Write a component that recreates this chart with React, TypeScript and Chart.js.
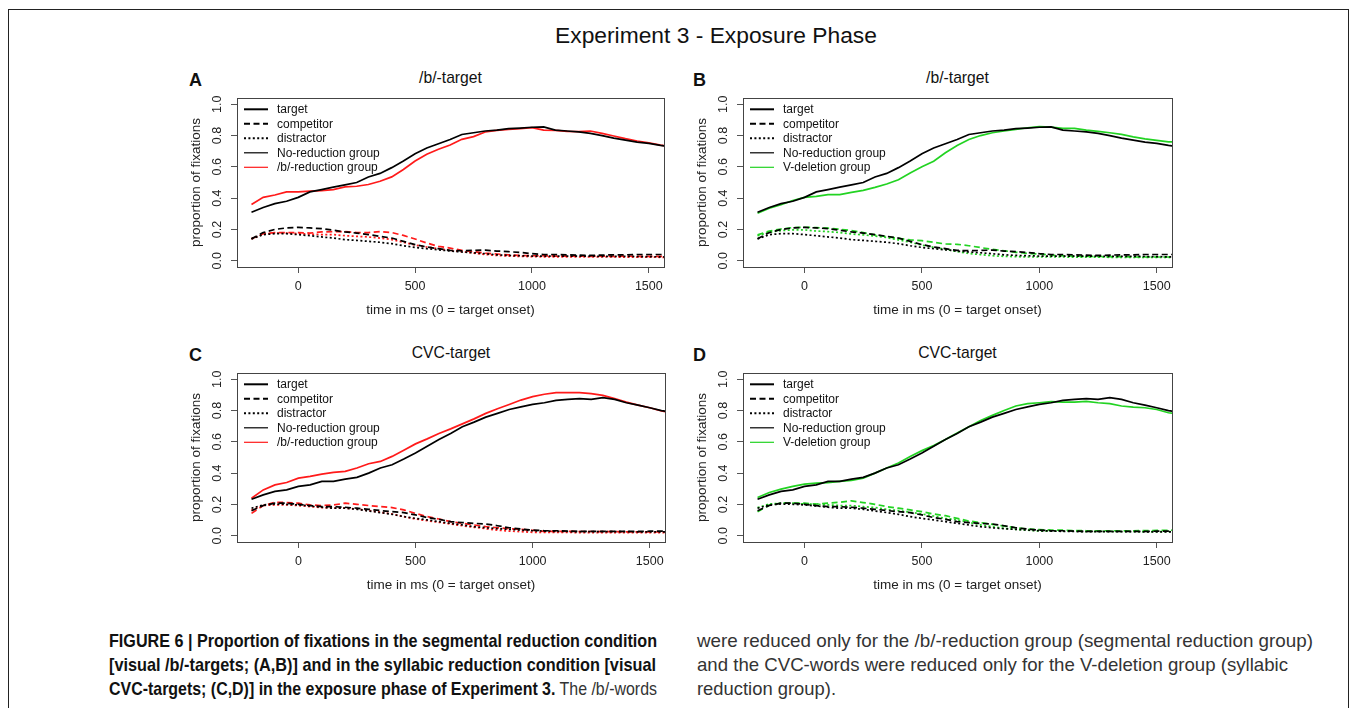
import React, { useEffect, useLayoutEffect, useRef } from "react";
import { Chart, registerables } from "chart.js";

Chart.register(...registerables);

// ---------------- data ----------------
const TIME = [
  -200, -150, -100, -50, 0, 50, 100, 150, 200, 250, 300, 350, 400, 450, 500, 550, 600, 650, 700, 750,
  800, 850, 900, 950, 1000, 1050, 1100, 1150, 1200, 1250, 1300, 1350, 1400, 1450, 1500, 1550, 1600,
];

// /b/-targets, No-reduction group (panels A and B)
const NR_B_TARGET = [0.31, 0.34, 0.365, 0.38, 0.405, 0.44, 0.455, 0.47, 0.485, 0.5, 0.535, 0.558, 0.595, 0.637, 0.684, 0.72, 0.748, 0.775, 0.807, 0.818, 0.829, 0.835, 0.844, 0.848, 0.853, 0.855, 0.835, 0.829, 0.823, 0.814, 0.8, 0.784, 0.771, 0.758, 0.75, 0.737, 0.727];
const NR_B_COMPETITOR = [0.14, 0.18, 0.2, 0.21, 0.213, 0.21, 0.205, 0.195, 0.184, 0.177, 0.167, 0.156, 0.145, 0.124, 0.103, 0.088, 0.077, 0.066, 0.064, 0.066, 0.068, 0.062, 0.058, 0.053, 0.045, 0.04, 0.04, 0.038, 0.036, 0.034, 0.036, 0.038, 0.038, 0.04, 0.04, 0.04, 0.04];
const NR_B_DISTRACTOR = [0.14, 0.167, 0.173, 0.173, 0.167, 0.16, 0.152, 0.145, 0.135, 0.13, 0.124, 0.118, 0.109, 0.096, 0.085, 0.077, 0.07, 0.062, 0.056, 0.051, 0.045, 0.038, 0.034, 0.032, 0.03, 0.03, 0.03, 0.03, 0.029, 0.029, 0.028, 0.028, 0.028, 0.027, 0.026, 0.025, 0.024];

// /b/-targets, /b/-reduction group (panel A)
const BR_B_TARGET = [0.36, 0.405, 0.42, 0.44, 0.44, 0.445, 0.448, 0.455, 0.472, 0.476, 0.487, 0.508, 0.536, 0.583, 0.637, 0.68, 0.712, 0.74, 0.776, 0.793, 0.823, 0.833, 0.84, 0.844, 0.85, 0.835, 0.833, 0.827, 0.825, 0.829, 0.814, 0.797, 0.78, 0.765, 0.754, 0.739, 0.728];
const BR_B_COMPETITOR = [0.14, 0.173, 0.18, 0.18, 0.18, 0.177, 0.184, 0.186, 0.186, 0.18, 0.18, 0.186, 0.18, 0.162, 0.139, 0.113, 0.092, 0.081, 0.066, 0.058, 0.049, 0.043, 0.038, 0.034, 0.032, 0.032, 0.03, 0.03, 0.03, 0.028, 0.03, 0.028, 0.03, 0.028, 0.028, 0.028, 0.028];
const BR_B_DISTRACTOR = [0.14, 0.17, 0.177, 0.177, 0.173, 0.17, 0.167, 0.167, 0.16, 0.156, 0.152, 0.145, 0.135, 0.118, 0.1, 0.088, 0.077, 0.066, 0.058, 0.049, 0.04, 0.034, 0.03, 0.028, 0.026, 0.025, 0.025, 0.025, 0.024, 0.024, 0.024, 0.024, 0.023, 0.023, 0.023, 0.022, 0.022];

// /b/-targets, V-deletion group (panel B)
const VD_B_TARGET = [0.304, 0.336, 0.358, 0.385, 0.405, 0.411, 0.422, 0.422, 0.437, 0.45, 0.469, 0.49, 0.518, 0.561, 0.6, 0.636, 0.69, 0.737, 0.775, 0.8, 0.818, 0.829, 0.839, 0.85, 0.857, 0.854, 0.846, 0.846, 0.835, 0.827, 0.818, 0.807, 0.792, 0.779, 0.769, 0.76, 0.757];
const VD_B_COMPETITOR = [0.165, 0.19, 0.203, 0.212, 0.214, 0.212, 0.208, 0.201, 0.193, 0.18, 0.165, 0.154, 0.143, 0.133, 0.128, 0.118, 0.107, 0.105, 0.096, 0.084, 0.073, 0.064, 0.054, 0.047, 0.043, 0.036, 0.032, 0.03, 0.028, 0.028, 0.026, 0.026, 0.024, 0.024, 0.024, 0.024, 0.024];
const VD_B_DISTRACTOR = [0.16, 0.182, 0.193, 0.197, 0.197, 0.19, 0.186, 0.18, 0.171, 0.165, 0.158, 0.148, 0.133, 0.118, 0.1, 0.086, 0.073, 0.058, 0.047, 0.039, 0.032, 0.028, 0.026, 0.024, 0.024, 0.024, 0.024, 0.023, 0.023, 0.023, 0.022, 0.022, 0.022, 0.021, 0.021, 0.021, 0.021];

// CVC-targets, No-reduction group (panels C and D)
const NR_C_TARGET = [0.233, 0.261, 0.283, 0.293, 0.315, 0.325, 0.347, 0.347, 0.362, 0.373, 0.4, 0.433, 0.454, 0.49, 0.529, 0.572, 0.615, 0.653, 0.696, 0.726, 0.758, 0.782, 0.807, 0.824, 0.839, 0.85, 0.865, 0.871, 0.876, 0.871, 0.882, 0.871, 0.85, 0.835, 0.818, 0.8, 0.79];
const NR_C_COMPETITOR = [0.16, 0.193, 0.208, 0.208, 0.201, 0.193, 0.186, 0.186, 0.182, 0.176, 0.169, 0.161, 0.154, 0.148, 0.133, 0.116, 0.105, 0.09, 0.084, 0.079, 0.075, 0.064, 0.051, 0.043, 0.036, 0.032, 0.032, 0.03, 0.028, 0.028, 0.028, 0.028, 0.028, 0.028, 0.029, 0.03, 0.03];
const NR_C_DISTRACTOR = [0.176, 0.197, 0.203, 0.201, 0.197, 0.19, 0.182, 0.176, 0.176, 0.169, 0.158, 0.148, 0.137, 0.122, 0.111, 0.101, 0.09, 0.079, 0.069, 0.058, 0.051, 0.045, 0.041, 0.036, 0.032, 0.03, 0.028, 0.027, 0.026, 0.026, 0.026, 0.026, 0.026, 0.025, 0.025, 0.025, 0.025];

// CVC-targets, /b/-reduction group (panel C)
const BR_C_TARGET = [0.24, 0.293, 0.325, 0.34, 0.368, 0.379, 0.394, 0.405, 0.411, 0.433, 0.46, 0.475, 0.507, 0.546, 0.587, 0.619, 0.653, 0.683, 0.715, 0.747, 0.782, 0.812, 0.839, 0.867, 0.889, 0.904, 0.914, 0.914, 0.914, 0.908, 0.897, 0.876, 0.854, 0.835, 0.818, 0.797, 0.785];
const BR_C_COMPETITOR = [0.143, 0.193, 0.214, 0.212, 0.208, 0.197, 0.193, 0.197, 0.208, 0.201, 0.193, 0.186, 0.18, 0.165, 0.143, 0.122, 0.107, 0.09, 0.079, 0.069, 0.058, 0.051, 0.045, 0.041, 0.034, 0.028, 0.028, 0.028, 0.027, 0.027, 0.026, 0.026, 0.025, 0.025, 0.024, 0.024, 0.024];
const BR_C_DISTRACTOR = [0.165, 0.193, 0.197, 0.197, 0.193, 0.186, 0.18, 0.176, 0.176, 0.171, 0.161, 0.15, 0.139, 0.122, 0.107, 0.096, 0.086, 0.075, 0.064, 0.054, 0.045, 0.036, 0.03, 0.026, 0.022, 0.021, 0.021, 0.021, 0.02, 0.02, 0.02, 0.02, 0.02, 0.02, 0.02, 0.02, 0.02];

// CVC-targets, V-deletion group (panel D)
const VD_C_TARGET = [0.244, 0.276, 0.298, 0.315, 0.33, 0.336, 0.34, 0.347, 0.353, 0.368, 0.4, 0.433, 0.465, 0.507, 0.544, 0.576, 0.615, 0.657, 0.696, 0.737, 0.769, 0.8, 0.829, 0.844, 0.85, 0.857, 0.854, 0.854, 0.859, 0.85, 0.844, 0.829, 0.822, 0.818, 0.807, 0.786, 0.78];
const VD_C_COMPETITOR = [0.154, 0.197, 0.208, 0.208, 0.208, 0.203, 0.208, 0.214, 0.223, 0.212, 0.201, 0.186, 0.176, 0.165, 0.154, 0.139, 0.128, 0.111, 0.094, 0.084, 0.073, 0.062, 0.051, 0.043, 0.039, 0.036, 0.036, 0.033, 0.032, 0.032, 0.032, 0.032, 0.032, 0.033, 0.034, 0.035, 0.036];
const VD_C_DISTRACTOR = [0.18, 0.203, 0.208, 0.208, 0.203, 0.201, 0.197, 0.193, 0.193, 0.186, 0.18, 0.169, 0.161, 0.15, 0.139, 0.126, 0.111, 0.101, 0.086, 0.069, 0.058, 0.047, 0.041, 0.036, 0.03, 0.03, 0.03, 0.029, 0.028, 0.028, 0.028, 0.027, 0.027, 0.026, 0.026, 0.026, 0.026];

const X_TICKS = [0, 500, 1000, 1500];
const Y_TICKS = [0, 0.2, 0.4, 0.6, 0.8, 1.0];
const X_MIN = -262;
const X_MAX = 1565;
const Y_MIN = -0.04;
const Y_MAX = 1.04;

// ---------------- styles ----------------
const FONT = '"Liberation Sans", Arial, Helvetica, sans-serif';
const BLACK = "#000000";
const RED = "#ff1a1a";
const GREEN = "#22d322";
const DASH = [6, 3.5];
const DOT = [2, 2.4];
const LINE_W = 1.7;

Chart.defaults.font.family = FONT;

type Box = { left: number; top: number; width: number; height: number };
const AXIS_W = 67;
const AXIS_H = 60;
const PAD_T = 14;
const PAD_R = 12;

type LegendItem = { label: string; color: string; width: number; dash: number[] };
const legendFor = (groupLabel: string, color: string): LegendItem[] => [
  { label: "target", color: BLACK, width: 2, dash: [] },
  { label: "competitor", color: BLACK, width: 2, dash: DASH },
  { label: "distractor", color: BLACK, width: 2, dash: DOT },
  { label: "No-reduction group", color: BLACK, width: 1.2, dash: [] },
  { label: groupLabel, color, width: 1.2, dash: [] },
];

const boxPlugin = {
  id: "rbox",
  afterDatasetsDraw(chart: any) {
    const { ctx, chartArea: a } = chart;
    ctx.save();
    ctx.strokeStyle = "#444";
    ctx.lineWidth = 1;
    ctx.strokeRect(Math.round(a.left) + 0.5, Math.round(a.top) + 0.5, Math.round(a.right - a.left), Math.round(a.bottom - a.top));
    ctx.restore();
  },
};

const legendPlugin = {
  id: "rlegend",
  afterDraw(chart: any, _args: any, opts: any) {
    const items: LegendItem[] = opts.items || [];
    const { ctx, chartArea: a } = chart;
    ctx.save();
    ctx.font = `12px ${FONT}`;
    ctx.textBaseline = "middle";
    ctx.textAlign = "left";
    items.forEach((it, i) => {
      const y = a.top + 11.3 + i * 14.5;
      ctx.beginPath();
      ctx.setLineDash(it.dash);
      ctx.strokeStyle = it.color;
      ctx.lineWidth = it.width;
      ctx.moveTo(a.left + 7, y);
      ctx.lineTo(a.left + 31, y);
      ctx.stroke();
      ctx.setLineDash([]);
      ctx.fillStyle = "#111";
      ctx.fillText(it.label, a.left + 40, y + 0.5);
    });
    ctx.restore();
  },
};

type Series = { values: number[]; color: string; dash: number[] };

function Panel({ box, series, legend }: { box: Box; series: Series[]; legend: LegendItem[] }) {
  const ref = useRef<HTMLCanvasElement>(null);
  const w = box.width + AXIS_W + PAD_R;
  const h = box.height + PAD_T + AXIS_H;
  useEffect(() => {
    const chart = new Chart(ref.current as HTMLCanvasElement, {
      type: "line",
      data: {
        datasets: series.map((s) => ({
          data: TIME.map((t, i) => ({ x: t, y: s.values[i] })),
          borderColor: s.color,
          borderWidth: LINE_W,
          borderDash: s.dash,
          pointRadius: 0,
          tension: 0,
          fill: false,
          clip: 0,
        })),
      },
      options: {
        responsive: false,
        animation: false,
        events: [],
        layout: { padding: { left: 0, top: PAD_T, right: PAD_R, bottom: 0 } },
        plugins: {
          legend: { display: false },
          tooltip: { enabled: false },
          rlegend: { items: legend },
        } as any,
        scales: {
          x: {
            type: "linear",
            min: X_MIN,
            max: X_MAX,
            afterBuildTicks: (s: any) => {
              s.ticks = X_TICKS.map((v) => ({ value: v }));
            },
            afterFit: (s: any) => {
              s.height = AXIS_H;
            },
            ticks: {
              autoSkip: false,
              maxRotation: 0,
              minRotation: 0,
              padding: 6,
              color: "#222",
              font: { size: 12.5 },
              callback: (v: any) => String(v),
            },
            grid: { drawOnChartArea: false, drawTicks: true, tickLength: 6, color: "#555", tickColor: "#555" },
            border: { display: false },
            title: {
              display: true,
              text: "time in ms (0 = target onset)",
              color: "#222",
              font: { size: 13.5 },
              padding: { top: 0, bottom: 9 },
            },
          },
          y: {
            type: "linear",
            min: Y_MIN,
            max: Y_MAX,
            afterBuildTicks: (s: any) => {
              s.ticks = Y_TICKS.map((v) => ({ value: v }));
            },
            afterFit: (s: any) => {
              s.width = AXIS_W;
            },
            ticks: {
              autoSkip: false,
              minRotation: 90,
              maxRotation: 90,
              crossAlign: "center",
              padding: 5,
              color: "#222",
              font: { size: 12.5 },
              callback: (v: any) => Number(v).toFixed(1),
            },
            grid: { drawOnChartArea: false, drawTicks: true, tickLength: 6, color: "#555", tickColor: "#555" },
            border: { display: false },
            title: {
              display: true,
              text: "proportion of fixations",
              color: "#222",
              font: { size: 13.5 },
              padding: { top: 18, bottom: 0 },
            },
          },
        },
      } as any,
      plugins: [boxPlugin, legendPlugin],
    });
    return () => chart.destroy();
  }, []);
  return (
    <canvas
      ref={ref}
      width={w}
      height={h}
      style={{ position: "absolute", left: box.left - AXIS_W, top: box.top - PAD_T, width: w, height: h, display: "block" }}
    />
  );
}

const BOX_A: Box = { left: 237, top: 98, width: 427, height: 169 };
const BOX_B: Box = { left: 743, top: 98, width: 429, height: 169 };
const BOX_C: Box = { left: 237, top: 373, width: 428, height: 169 };
const BOX_D: Box = { left: 743, top: 373, width: 429, height: 169 };

function Text({ x, y, size, children, bold, center, color }: any) {
  const lh = Math.round(size * 1.3);
  return (
    <div
      style={{
        position: "absolute",
        left: x,
        top: y - lh / 2,
        lineHeight: `${lh}px`,
        fontSize: size,
        fontFamily: FONT,
        fontWeight: bold ? 700 : 400,
        color: color || "#111",
        whiteSpace: "nowrap",
        transform: center ? "translateX(-50%)" : undefined,
      }}
    >
      {children}
    </div>
  );
}

// A caption line squeezed horizontally to the width it has in the printed figure
function CapLine({ x, y, width, children, color }: any) {
  const ref = useRef<HTMLSpanElement>(null);
  useLayoutEffect(() => {
    const el = ref.current;
    if (!el) return;
    el.style.transform = "none";
    const w = el.getBoundingClientRect().width;
    if (w > 0) el.style.transform = `scaleX(${width / w})`;
  }, [width]);
  return (
    <span
      ref={ref}
      style={{
        position: "absolute",
        left: x,
        top: y - 12,
        lineHeight: "24px",
        fontSize: 19,
        fontFamily: FONT,
        whiteSpace: "nowrap",
        color: color || "#333",
        transformOrigin: "0 50%",
        display: "inline-block",
      }}
    >
      {children}
    </span>
  );
}

export default function App() {
  const panelA: Series[] = [
    { values: NR_B_TARGET, color: BLACK, dash: [] },
    { values: NR_B_COMPETITOR, color: BLACK, dash: DASH },
    { values: NR_B_DISTRACTOR, color: BLACK, dash: DOT },
    { values: BR_B_TARGET, color: RED, dash: [] },
    { values: BR_B_COMPETITOR, color: RED, dash: DASH },
    { values: BR_B_DISTRACTOR, color: RED, dash: DOT },
  ];
  const panelB: Series[] = [
    { values: NR_B_TARGET, color: BLACK, dash: [] },
    { values: NR_B_COMPETITOR, color: BLACK, dash: DASH },
    { values: NR_B_DISTRACTOR, color: BLACK, dash: DOT },
    { values: VD_B_TARGET, color: GREEN, dash: [] },
    { values: VD_B_COMPETITOR, color: GREEN, dash: DASH },
    { values: VD_B_DISTRACTOR, color: GREEN, dash: DOT },
  ];
  const panelC: Series[] = [
    { values: NR_C_TARGET, color: BLACK, dash: [] },
    { values: NR_C_COMPETITOR, color: BLACK, dash: DASH },
    { values: NR_C_DISTRACTOR, color: BLACK, dash: DOT },
    { values: BR_C_TARGET, color: RED, dash: [] },
    { values: BR_C_COMPETITOR, color: RED, dash: DASH },
    { values: BR_C_DISTRACTOR, color: RED, dash: DOT },
  ];
  const panelD: Series[] = [
    { values: NR_C_TARGET, color: BLACK, dash: [] },
    { values: NR_C_COMPETITOR, color: BLACK, dash: DASH },
    { values: NR_C_DISTRACTOR, color: BLACK, dash: DOT },
    { values: VD_C_TARGET, color: GREEN, dash: [] },
    { values: VD_C_COMPETITOR, color: GREEN, dash: DASH },
    { values: VD_C_DISTRACTOR, color: GREEN, dash: DOT },
  ];
  const legBR = legendFor("/b/-reduction group", RED);
  const legVD = legendFor("V-deletion group", GREEN);
  const B = { fontWeight: 700, color: "#111" };
  return (
    <div style={{ position: "absolute", left: 0, top: 0, width: 1355, height: 708, overflow: "hidden", background: "#fff" }}>
      <div style={{ position: "absolute", left: 8, top: 9, width: 1341, height: 760, border: "1px solid #222", boxSizing: "border-box" }} />
      <Text x={716} y={35} size={22.8} center color="#111">Experiment 3 - Exposure Phase</Text>

      <Text x={189} y={80} size={18} bold>A</Text>
      <Text x={693} y={80} size={18} bold>B</Text>
      <Text x={189} y={355} size={18} bold>C</Text>
      <Text x={693} y={355} size={18} bold>D</Text>

      <Text x={BOX_A.left + BOX_A.width / 2} y={78} size={15.7} center>/b/-target</Text>
      <Text x={BOX_B.left + BOX_B.width / 2} y={78} size={15.7} center>/b/-target</Text>
      <Text x={BOX_C.left + BOX_C.width / 2} y={353} size={15.7} center>CVC-target</Text>
      <Text x={BOX_D.left + BOX_D.width / 2} y={353} size={15.7} center>CVC-target</Text>

      <Panel box={BOX_A} series={panelA} legend={legBR} />
      <Panel box={BOX_B} series={panelB} legend={legVD} />
      <Panel box={BOX_C} series={panelC} legend={legBR} />
      <Panel box={BOX_D} series={panelD} legend={legVD} />

      <CapLine x={109} y={641} width={548}>
        <span style={B}>FIGURE 6 | Proportion of fixations in the segmental reduction condition</span>
      </CapLine>
      <CapLine x={109} y={665} width={547}>
        <span style={B}>[visual /b/-targets; (A,B)] and in the syllabic reduction condition [visual</span>
      </CapLine>
      <CapLine x={109} y={689} width={548}>
        <span style={B}>CVC-targets; (C,D)] in the exposure phase of Experiment 3.</span>
        <span> The /b/-words</span>
      </CapLine>
      <CapLine x={697} y={641} width={616}>were reduced only for the /b/-reduction group (segmental reduction group)</CapLine>
      <CapLine x={697} y={665} width={591}>and the CVC-words were reduced only for the V-deletion group (syllabic</CapLine>
      <CapLine x={697} y={689} width={139}>reduction group).</CapLine>
    </div>
  );
}
